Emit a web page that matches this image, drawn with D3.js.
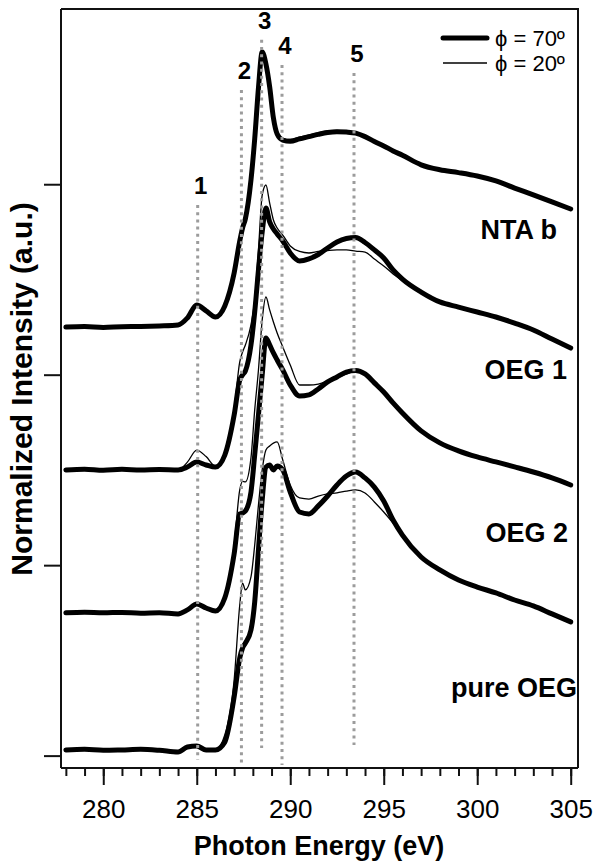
<!DOCTYPE html>
<html><head><meta charset="utf-8">
<script src="https://cdn.jsdelivr.net/npm/d3@7"></script>
<style>body{margin:0;background:#fff}svg{display:block}</style>
</head><body><svg id="chart" width="602" height="861"></svg>
<script>
// ---- data ----
const energies = [278, 279, 280, 281, 282, 283, 284, 284.5, 285, 285.5, 286, 286.5, 287, 287.3, 287.45, 287.6, 287.9, 288.1, 288.3, 288.5, 288.7, 288.9, 289.1, 289.3, 289.6, 290, 290.5, 291, 291.5, 292, 292.5, 293, 293.5, 294, 294.5, 295, 295.5, 296, 297, 298, 299, 300, 301, 302, 303, 304, 305];

const ntaB70 = [0, 0.003, -0.002, 0.002, 0.003, 0.006, 0.011, 0.048, 0.116, 0.085, 0.053, 0.111, 0.284, 0.452, 0.52, 0.568, 0.772, 0.988, 1.255, 1.444, 1.381, 1.261, 1.098, 1.014, 0.982, 0.975, 0.988, 1.0, 1.012, 1.022, 1.026, 1.024, 1.018, 1.0, 0.974, 0.951, 0.925, 0.902, 0.852, 0.826, 0.811, 0.793, 0.767, 0.730, 0.694, 0.657, 0.620];
const ntaB20 = [0, 0, 0, 0, 0, 0.003, 0.008, 0.05, 0.12, 0.088, 0.055, 0.115, 0.29, 0.46, 0.525, 0.575, 0.78, 0.995, 1.26, 1.45, 1.39, 1.27, 1.11, 1.03, 0.99, 0.985, 0.997, 1.008, 1.02, 1.03, 1.033, 1.028, 1.02, 1.0, 0.975, 0.953, 0.927, 0.903, 0.852, 0.826, 0.811, 0.793, 0.767, 0.730, 0.694, 0.657, 0.620];
const oeg1_70 = [0, 0.004, -0.002, 0.003, 0, 0.002, 0, 0.015, 0.041, 0.026, 0.015, 0.078, 0.288, 0.472, 0.499, 0.519, 0.656, 0.829, 1.050, 1.249, 1.375, 1.302, 1.265, 1.239, 1.202, 1.139, 1.097, 1.108, 1.131, 1.165, 1.197, 1.215, 1.220, 1.194, 1.155, 1.113, 1.050, 1.002, 0.934, 0.882, 0.855, 0.829, 0.803, 0.771, 0.735, 0.687, 0.640];
const oeg1_20 = [0, 0, 0, 0, 0, 0, 0, 0.041, 0.104, 0.07, 0.02, 0.07, 0.315, 0.567, 0.619, 0.656, 0.761, 0.892, 1.155, 1.443, 1.496, 1.401, 1.312, 1.270, 1.233, 1.176, 1.147, 1.139, 1.147, 1.152, 1.155, 1.155, 1.149, 1.144, 1.107, 1.071, 1.029, 0.994, 0.934, 0.882, 0.855, 0.829, 0.803, 0.771, 0.735, 0.687, 0.640];
const oeg2_70 = [0, 0.003, 0, 0.002, -0.003, 0, -0.006, 0.015, 0.046, 0.025, 0.009, 0.078, 0.309, 0.519, 0.524, 0.534, 0.634, 0.829, 1.039, 1.249, 1.443, 1.406, 1.364, 1.327, 1.275, 1.196, 1.138, 1.144, 1.175, 1.212, 1.238, 1.264, 1.272, 1.254, 1.207, 1.159, 1.102, 1.049, 0.955, 0.892, 0.850, 0.818, 0.792, 0.766, 0.739, 0.708, 0.671];
const oeg2_20 = [0, 0, 0, 0, 0, 0, -0.004, 0.018, 0.05, 0.028, 0.01, 0.08, 0.356, 0.645, 0.69, 0.687, 0.813, 1.065, 1.275, 1.537, 1.658, 1.590, 1.527, 1.469, 1.396, 1.301, 1.196, 1.196, 1.201, 1.217, 1.233, 1.254, 1.270, 1.249, 1.207, 1.159, 1.102, 1.049, 0.955, 0.892, 0.850, 0.818, 0.792, 0.766, 0.739, 0.708, 0.671];
const pure70 = [0, 0.003, -0.002, 0, 0.003, -0.002, -0.011, 0.015, 0.020, 0, 0, 0.041, 0.278, 0.483, 0.535, 0.561, 0.630, 0.777, 1.050, 1.312, 1.485, 1.496, 1.470, 1.491, 1.470, 1.354, 1.249, 1.239, 1.281, 1.333, 1.391, 1.438, 1.459, 1.428, 1.380, 1.307, 1.207, 1.128, 1.013, 0.945, 0.892, 0.855, 0.824, 0.787, 0.756, 0.714, 0.672];
const pure20 = [0, 0, 0, 0, 0, 0, -0.008, 0.015, 0.02, 0, 0, 0.078, 0.367, 0.761, 0.876, 0.840, 0.908, 1.076, 1.286, 1.470, 1.575, 1.596, 1.611, 1.617, 1.522, 1.391, 1.323, 1.317, 1.333, 1.344, 1.349, 1.359, 1.365, 1.349, 1.302, 1.249, 1.191, 1.128, 1.013, 0.945, 0.892, 0.855, 0.824, 0.787, 0.756, 0.714, 0.672];

const sampleNames = ["NTA b", "OEG 1", "OEG 2", "pure OEG"];
const sampleOffsets = [2.25, 1.5, 0.75, 0.03];
const sampleLabelY = [2.71, 1.98, 1.12, 0.31];

const peakNames = ["1", "2", "3", "4", "5"];
const peakEnergies = [285.05, 287.39, 288.47, 289.56, 293.41];
const peakTop = [2.891, 3.495, 3.758, 3.626, 3.584];
const peakBottom = [-0.023, -0.039, 0.040, -0.049, 0.056];

const xMajorTicks = [280, 285, 290, 295, 300, 305];
const xMinorTicks = d3.range(278, 306, 1);
const yTicks = [0, 1, 2, 3];
const legendNames = ["\u03D5 = 70\u00BA", "\u03D5 = 20\u00BA"];

// ---- drawing ----
const svg = d3.select("#chart");
const FONT = "'Liberation Sans', Arial, sans-serif";
const L = 61, R = 578, T = 9, B = 768;

const x = d3.scaleLinear().domain([277.74, 305.39]).range([L, R]);
const y = d3.scaleLinear().domain([-0.065, 3.92]).range([B, T]);

const spectra = [
  {thick: ntaB70, thin: ntaB20},
  {thick: oeg1_70, thin: oeg1_20},
  {thick: oeg2_70, thin: oeg2_20},
  {thick: pure70, thin: pure20}
];

const line = d3.line().x(d => x(d[0])).y(d => y(d[1])).curve(d3.curveMonotoneX);

spectra.forEach((s, i) => {
  const off = sampleOffsets[i];
  const thick = energies.map((e, k) => [e, s.thick[k] + off]);
  const thin = energies.map((e, k) => [e, s.thin[k] + off]);
  svg.append("path").attr("d", line(thick)).attr("fill", "none")
    .attr("stroke", "#000").attr("stroke-width", 5).attr("stroke-linejoin", "round").attr("stroke-linecap", "round");
  svg.append("path").attr("d", line(thin)).attr("fill", "none")
    .attr("stroke", "#000").attr("stroke-width", 1.3).attr("stroke-linejoin", "round");
  svg.append("text").attr("x", [557, 567, 568, 577][i]).attr("y", y(sampleLabelY[i]))
    .attr("text-anchor", "end").attr("font-family", FONT).attr("font-weight", "bold")
    .attr("font-size", 27).attr("fill", "#000").text(sampleNames[i]);
});

// dotted peak markers
peakEnergies.forEach((e, i) => {
  svg.append("line").attr("x1", x(e)).attr("x2", x(e))
    .attr("y1", y(peakTop[i])).attr("y2", y(peakBottom[i]))
    .attr("stroke", "#9c9c9c").attr("stroke-width", 3).attr("stroke-dasharray", "3,4.2");
  svg.append("text").attr("x", x(e) + 3).attr("y", y(peakTop[i]) - 11)
    .attr("text-anchor", "middle").attr("font-family", FONT).attr("font-weight", "bold")
    .attr("font-size", 24).attr("fill", "#000").text(peakNames[i]);
});

// axes
const xMinor = d3.axisBottom(x).tickValues(xMinorTicks).tickSize(8).tickSizeOuter(0).tickFormat("");
const gxm = svg.append("g").attr("transform", `translate(0,${B})`).call(xMinor);
const xMajor = d3.axisBottom(x).tickValues(xMajorTicks).tickSize(17).tickSizeOuter(0).tickPadding(15).tickFormat(d3.format("d"));
const gx = svg.append("g").attr("transform", `translate(0,${B})`).call(xMajor);
[gxm, gx].forEach(g => {
  g.selectAll("line").attr("stroke", "#111").attr("stroke-width", 2);
  g.select(".domain").attr("stroke", "#111").attr("stroke-width", 2).attr("d", `M${L},0H${R}`);
});
gx.selectAll("text").attr("font-family", FONT).attr("font-size", 26).attr("fill", "#000");

const yAxis = d3.axisLeft(y).tickValues(yTicks).tickSize(17).tickSizeOuter(0).tickFormat("");
const gy = svg.append("g").attr("transform", `translate(${L},0)`).call(yAxis);
gy.selectAll("line").attr("stroke", "#111").attr("stroke-width", 2);
gy.select(".domain").attr("stroke", "#111").attr("stroke-width", 2).attr("d", `M0,${T}V${B}`);

// frame top & right
svg.append("path").attr("d", `M${L},${T}H${R}V${B}`).attr("fill", "none")
  .attr("stroke", "#111").attr("stroke-width", 2);

// axis titles
svg.append("text").attr("x", 319).attr("y", 855).attr("text-anchor", "middle")
  .attr("font-family", FONT).attr("font-weight", "bold").attr("font-size", 27).text("Photon Energy (eV)");
svg.append("text").attr("transform", "translate(32,389) rotate(-90)").attr("text-anchor", "middle")
  .attr("font-family", FONT).attr("font-weight", "bold").attr("font-size", 30).text("Normalized Intensity (a.u.)");

// legend
const legendWidths = [5, 1.3];
legendNames.forEach((n, i) => {
  const ly = 38 + i * 25;
  svg.append("line").attr("x1", 443).attr("x2", 487).attr("y1", ly).attr("y2", ly)
    .attr("stroke", "#000").attr("stroke-width", legendWidths[i]).attr("stroke-linecap", i === 0 ? "round" : "butt");
  svg.append("text").attr("x", 495).attr("y", ly + 8).attr("font-family", FONT)
    .attr("font-size", 22).attr("fill", "#000").text(n);
});
</script>
</body></html>
